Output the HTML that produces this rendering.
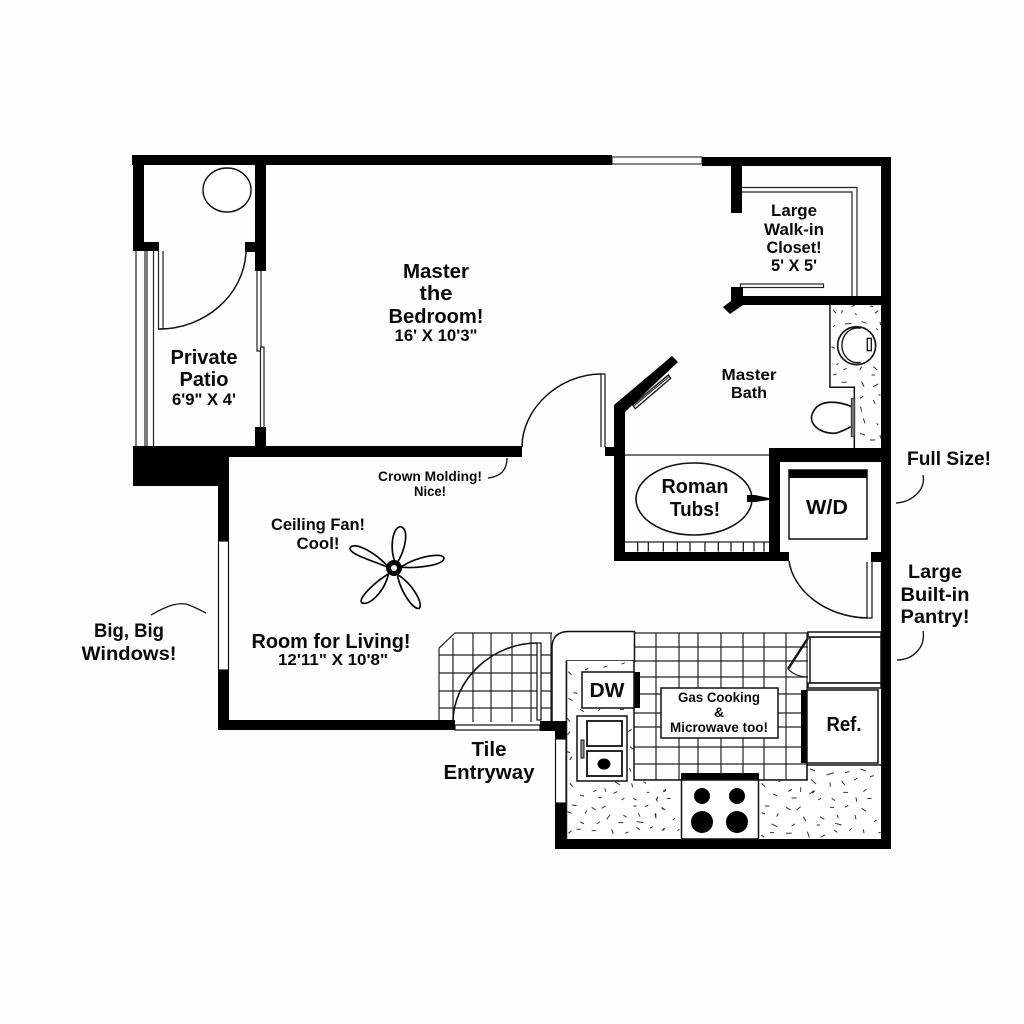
<!DOCTYPE html>
<html>
<head>
<meta charset="utf-8">
<title>Floor plan</title>
<style>
html,body{margin:0;padding:0;background:#fff;width:1024px;height:1024px;overflow:hidden}
svg{display:block}
text{font-family:"Liberation Sans",sans-serif;font-weight:bold;fill:#0a0a0a;text-anchor:middle}
</style>
</head>
<body>
<svg width="1024" height="1024" viewBox="0 0 1024 1024" xmlns="http://www.w3.org/2000/svg">
<rect width="1024" height="1024" fill="#fefefe"/>

<!-- tile grids -->
<g stroke="#222" stroke-width="1.200" fill="none">
<path d="M439 648L455 633H552M439 648V720"/>
<path d="M453 638V722M473 633V722M491 633V722M512 633V722M531 633V722M551 633V722"/>
<path d="M439 655H552M439 673H552M439 691H552M439 708H552"/>
<path d="M634 633H808M634 647H808M634 661H808M634 677H808M634 694H808M634 713H808M634 727H808M634 747H808M634 764H808M634 780H808"/>
<path d="M656 633V780M679 633V780M698 633V780M721 633V780M743 633V780M764 633V780M786 633V780M807 633V780"/>
</g>

<!-- kitchen counter -->
<path d="M552 722V648Q552 632 568 631.500H634.500V661H566.500V722Z" fill="#fff" stroke="#111" stroke-width="1.500"/>
<rect x="567" y="661" width="67" height="119" fill="#fff"/>
<rect x="567" y="780" width="314" height="60" fill="#fff"/>
<rect x="808" y="765" width="73" height="20" fill="#fff"/>
<path d="M566.500 661V840M634 661V780H681M759 780H807V765H881" fill="none" stroke="#111" stroke-width="1.500"/>

<!-- speckles -->
<g transform="translate(650,620) scale(.3333)" stroke="#333" stroke-width="3" fill="none">
<path d="M480 447L495 452M530 465L552 458M585 458L598 455M632 447L648 453M660 470L672 467M483 478L498 492M540 487L541 500M575 483L584 495M612 480L622 475M640 515L650 508M487 520L494 512M580 517L594 517M335 490L345 500M385 485L392 482M415 515L425 508M452 502L452 516M478 522L492 512M370 522L382 528M425 534L440 534M505 540L513 535M545 535L555 542M618 532L620 545M652 535L665 535M345 558L358 558M408 562L422 570M440 570L452 560M540 562L552 562M585 562L595 556M635 565L648 574M335 578L345 582M385 580L380 590M460 590L468 604M510 590L523 598M562 585L565 595M615 585L618 598M672 605L680 600M365 612L382 620M425 618L435 612M500 615L510 615M555 610L575 615M598 632L605 625M640 628L642 640M360 638L372 638M408 640L425 640M472 635L478 652M512 652L525 645M552 630L562 637M685 638L692 638M335 645L342 652M40 512L48 508M50 535L62 535M18 535L22 545M35 562L45 570M15 580L17 592M68 600L75 595M40 625L42 632M82 632L88 628"/>
</g>
<g transform="translate(430,620) scale(.3333)" stroke="#333" stroke-width="3" fill="none">
<path d="M415 155L425 165M465 150L475 145M520 142L532 138M575 132L585 128M430 218L442 220M415 235L428 242M450 268L462 275M505 272L510 268M570 268L582 268M412 295L420 305M412 345L420 335M595 335L605 328M420 420L425 410M412 395L420 398M600 380L610 388M598 445L603 455M420 490L428 500M555 485L570 495M605 490L608 502M640 485L648 490M450 525L462 528M490 515L500 510M525 505L527 515M550 520L562 515M505 533L515 533M575 540L583 535M610 535L620 540M650 517L658 517M680 540L683 530M700 515L708 512M425 555L440 557M485 562L497 570M515 565L527 558M610 558L620 558M645 560L655 555M695 565L705 570M412 575L425 580M465 580L470 572M530 598L540 585M580 585L590 592M625 580L630 590M677 580L678 595M450 605L462 612M500 612L510 605M565 608L580 608M620 605L640 608M415 640L425 632M440 628L452 628M485 632L498 632M545 628L550 642M585 640L595 636M620 622L630 630M660 625L668 620M695 632L705 625"/>
</g>
<g transform="translate(590,150) scale(.3333)" stroke="#333" stroke-width="3" fill="none">
<path d="M730 480L738 490M785 470L795 465M840 468L850 470M755 490L757 480M795 490L800 495M855 490L865 482M870 515L872 525M730 530L735 525M815 515L830 520M765 522L785 520M725 590L735 595M860 535L862 540M740 645L745 640M760 660L770 655M810 660L815 650M850 650L862 660M730 675L740 672M845 675L855 675M755 697L770 697M815 695L822 710M850 710L865 702M810 745L820 738M850 750L855 762M865 735L872 735M812 770L815 785M820 805L825 820M860 820L865 825M810 850L825 855M840 870L855 870M870 855L872 865"/>
</g>
<g transform="translate(590,150) scale(.3333)" stroke="#111" fill="none">
<!-- vanity outline -->
<path d="M720 465V712H793V895" stroke-width="4.500"/>
<!-- sink -->
<circle cx="800" cy="587" r="57" stroke-width="5" fill="#fff"/>
<path d="M812 535A47 52 0 1 0 812 637" stroke-width="4"/>
<rect x="832" y="565" width="12" height="37" stroke-width="4" fill="#fff"/>
<!-- toilet -->
<path d="M785 770C750 755 690 745 670 785C650 820 690 850 730 850C750 850 770 835 785 830" stroke-width="5" fill="#fff"/>
<rect x="784" y="746" width="10" height="114" fill="#777" stroke="#333" stroke-width="3"/>
<!-- towel bar -->
<path d="M128 765L235 675L242 685L136 776Z" stroke-width="4" fill="#fff"/>
<path d="M133 767L236 681" stroke-width="3"/>
</g>

<!-- closet rails -->
<g stroke="#222" stroke-width="1.200" fill="none">
<path d="M741 187.500H857V296M741 192H852V296"/>
<rect x="740.500" y="284" width="83" height="3.500" fill="#fff"/>
<!-- patio sliding door -->
<path d="M136 251V446M145 251V446M147 251V446M153.500 251V446"/>
<path d="M158.500 251V329H163V251"/>
<path d="M257 271V351H260.500V347H264V427M261 271V347M260.500 351V427"/>
<!-- tub deck -->
<path d="M625 455H770M625 542H770"/>
</g>
<g transform="translate(590,440) scale(.3333)" stroke="#222" stroke-width="4" fill="none">
<path d="M143 305V335M175 305V335M220 305V335M262 305V335M300 305V335M345 305V335M385 305V335M423 305V335M460 305V335M492 305V335M522 305V335"/>
</g>
<ellipse cx="694" cy="499" rx="58" ry="36" fill="#fff" stroke="#111" stroke-width="1.600"/>
<path d="M747 495H755L769 498V500L755 502H747Z" fill="#000"/>

<!-- doors -->
<g stroke="#111" fill="none">
<ellipse cx="227" cy="190" rx="24" ry="22" stroke-width="1.400" fill="#fff"/>
<path d="M246 252C244 295 205 329 159 329" stroke-width="1.500"/>
<path d="M522 447C522 408 560 374 601 374" stroke-width="1.500"/>
<path d="M601 447V374H605V447" stroke-width="1.200"/>
<path d="M789 561C793 590 825 617 867 618" stroke-width="1.500"/>
<path d="M867 562V618H872V562" stroke-width="1.200"/>
<path d="M453 722C453 680 492 643 537 643" stroke-width="1.600"/>
<rect x="537" y="643" width="4" height="77" fill="#fff" stroke-width="1.200"/>
<rect x="455" y="725" width="85" height="5" fill="#fff" stroke-width="1.200"/>
<!-- pantry door -->
<path d="M808 638L788 669" stroke-width="2.400"/>
<path d="M788 669Q796 677 808 677" stroke-width="1.200"/>
</g>

<!-- walls -->
<g fill="#000">
<path d="M132 155H612V165H266V271H255V252H245V242H255V165H144V242H159V251H133V165H132Z"/>
<rect x="255" y="427" width="11" height="20"/>
<rect x="612" y="157" width="90" height="7" fill="#fff" stroke="#111" stroke-width="1"/>
<path d="M702 157H891V849H555V803H566V839H881V166H742V213H731V166H702Z"/>
<path d="M133 446H522V457H229V486H133Z"/>
<rect x="218" y="486" width="11" height="55"/>
<rect x="218" y="670" width="11" height="60"/>
<rect x="218" y="720" width="237" height="10"/>
<rect x="540" y="721" width="26" height="10"/>
<rect x="555" y="721" width="11" height="18"/>
<path d="M731 287H743V296H881V305H743L730 314L723 307L731 301Z"/>
<path d="M672 356L678 362L625 412V552H789V561H614V405Z"/>
<rect x="605" y="447" width="10" height="9"/>
<path d="M769 448H881V462H780V552H769Z"/>
<rect x="871" y="552" width="10" height="10"/>
<rect x="801" y="690" width="6" height="73"/>
<rect x="634" y="672" width="6" height="36"/>
<rect x="681" y="773" width="78" height="7"/>
</g>
<g fill="#fff" stroke="#111" stroke-width="1.200">
<rect x="218.500" y="541" width="10" height="129"/>
<rect x="555.500" y="739" width="10.500" height="64"/>
</g>

<!-- appliances -->
<g stroke="#111" fill="#fff" stroke-width="1.500">
<rect x="582" y="672" width="52" height="36"/>
<rect x="577" y="716" width="50" height="65"/>
<rect x="587" y="721" width="35" height="25" stroke-width="1.800"/>
<rect x="587" y="751" width="35" height="25" stroke-width="1.800"/>
<rect x="581" y="740" width="3" height="18" fill="#999" stroke-width="1"/>
<rect x="789" y="470" width="78" height="69"/>
<rect x="661" y="688" width="117" height="50"/>
<rect x="807" y="690" width="71" height="73"/>
<rect x="810" y="637" width="71" height="46"/>
<rect x="808" y="632" width="73" height="5"/>
<rect x="808" y="683" width="73" height="5"/>
<rect x="681.500" y="780" width="77" height="59"/>
</g>
<rect x="789" y="470" width="78" height="8" fill="#000"/>
<g fill="#000">
<ellipse cx="604" cy="764" rx="6.500" ry="5.500"/>
<circle cx="702" cy="796" r="8"/>
<circle cx="737" cy="796" r="8"/>
<circle cx="702" cy="822" r="11"/>
<circle cx="737" cy="822" r="11"/>
</g>

<!-- ceiling fan -->
<g transform="translate(210,450) scale(.3333)" stroke="#000" stroke-width="5" fill="#fff">
<path d="M558 345C535 290 550 230 572 230C597 235 590 295 558 345Z"/>
<path d="M575 350C620 320 700 305 702 325C700 345 630 355 575 352Z"/>
<path d="M530 350C480 330 420 312 420 295C425 275 480 295 530 345Z"/>
<path d="M535 372C490 400 445 445 455 458C475 470 520 430 535 375Z"/>
<path d="M563 380C575 430 610 480 628 475C640 460 610 405 565 375Z"/>
</g>
<circle cx="394" cy="568" r="8" fill="#000"/>
<circle cx="394" cy="568" r="3" fill="#fff"/>

<!-- callout curves -->
<g stroke="#111" stroke-width="1.300" fill="none">
<path d="M488 478C497 477 507 473 507 458"/>
<path d="M151 615C170 604 178 603 186 604C193 606 200 610 206 613"/>
<path d="M896 503C912 502 926 490 923 475"/>
<path d="M897 660C912 660 926 648 923 631"/>
</g>

<!-- labels -->
<text x="436" y="278" font-size="20" textLength="66" lengthAdjust="spacingAndGlyphs">Master</text>
<text x="436" y="300" font-size="20" textLength="33" lengthAdjust="spacingAndGlyphs">the</text>
<text x="436" y="323" font-size="20" textLength="95" lengthAdjust="spacingAndGlyphs">Bedroom!</text>
<text x="436" y="341" font-size="16.500" textLength="83" lengthAdjust="spacingAndGlyphs">16' X 10'3"</text>

<text x="204" y="364" font-size="20" textLength="67" lengthAdjust="spacingAndGlyphs">Private</text>
<text x="204" y="386" font-size="20" textLength="49" lengthAdjust="spacingAndGlyphs">Patio</text>
<text x="204" y="405" font-size="16.500" textLength="64" lengthAdjust="spacingAndGlyphs">6'9" X 4'</text>

<text x="794" y="216" font-size="16.500" textLength="46" lengthAdjust="spacingAndGlyphs">Large</text>
<text x="794" y="235" font-size="16.500" textLength="60" lengthAdjust="spacingAndGlyphs">Walk-in</text>
<text x="794" y="253" font-size="16.500" textLength="55" lengthAdjust="spacingAndGlyphs">Closet!</text>
<text x="794" y="271" font-size="16.500" textLength="46" lengthAdjust="spacingAndGlyphs">5' X 5'</text>

<text x="749" y="380" font-size="15.500" textLength="55" lengthAdjust="spacingAndGlyphs">Master</text>
<text x="749" y="398" font-size="15.500" textLength="36" lengthAdjust="spacingAndGlyphs">Bath</text>

<text x="695" y="493" font-size="20" textLength="67" lengthAdjust="spacingAndGlyphs">Roman</text>
<text x="695" y="516" font-size="20" textLength="50" lengthAdjust="spacingAndGlyphs">Tubs!</text>
<text x="827" y="514" font-size="20" textLength="42" lengthAdjust="spacingAndGlyphs">W/D</text>

<text x="949" y="465" font-size="19" textLength="84" lengthAdjust="spacingAndGlyphs">Full Size!</text>
<text x="935" y="578" font-size="19" textLength="54" lengthAdjust="spacingAndGlyphs">Large</text>
<text x="935" y="601" font-size="19" textLength="69" lengthAdjust="spacingAndGlyphs">Built-in</text>
<text x="935" y="623" font-size="19" textLength="69" lengthAdjust="spacingAndGlyphs">Pantry!</text>

<text x="489" y="756" font-size="20" textLength="35" lengthAdjust="spacingAndGlyphs">Tile</text>
<text x="489" y="779" font-size="20" textLength="91" lengthAdjust="spacingAndGlyphs">Entryway</text>

<text x="607" y="697" font-size="20" textLength="35" lengthAdjust="spacingAndGlyphs">DW</text>
<text x="719" y="702" font-size="14" textLength="82" lengthAdjust="spacingAndGlyphs">Gas Cooking</text>
<text x="719" y="717" font-size="14">&amp;</text>
<text x="719" y="732" font-size="14" textLength="98" lengthAdjust="spacingAndGlyphs">Microwave too!</text>
<text x="844" y="731" font-size="20" textLength="35" lengthAdjust="spacingAndGlyphs">Ref.</text>

<text x="331" y="648" font-size="20" textLength="159" lengthAdjust="spacingAndGlyphs">Room for Living!</text>
<text x="333" y="665" font-size="16" textLength="110" lengthAdjust="spacingAndGlyphs">12'11" X 10'8"</text>

<text x="129" y="637" font-size="19" textLength="70" lengthAdjust="spacingAndGlyphs">Big, Big</text>
<text x="129" y="660" font-size="19" textLength="95" lengthAdjust="spacingAndGlyphs">Windows!</text>

<text x="318" y="530" font-size="17" textLength="94" lengthAdjust="spacingAndGlyphs">Ceiling Fan!</text>
<text x="318" y="549" font-size="17" textLength="43" lengthAdjust="spacingAndGlyphs">Cool!</text>
<text x="430" y="481" font-size="14" textLength="104" lengthAdjust="spacingAndGlyphs">Crown Molding!</text>
<text x="430" y="496" font-size="14" textLength="32" lengthAdjust="spacingAndGlyphs">Nice!</text>
</svg>
</body>
</html>
